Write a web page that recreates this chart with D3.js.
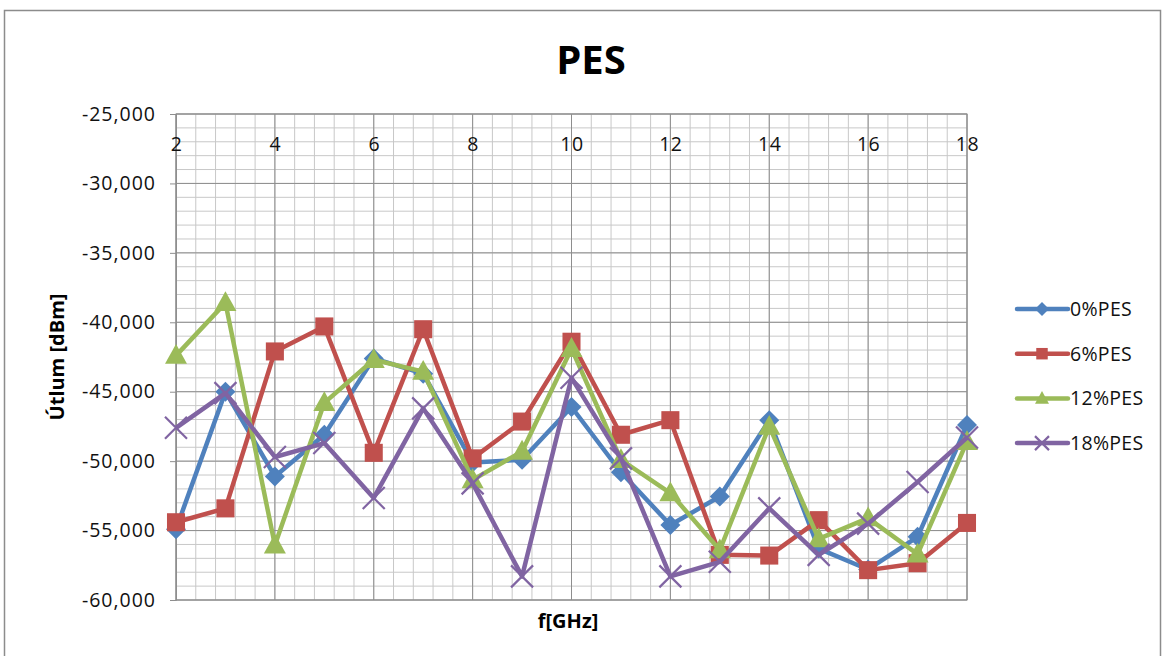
<!DOCTYPE html>
<html><head><meta charset="utf-8">
<script src="https://cdn.jsdelivr.net/npm/d3@7/dist/d3.min.js"></script>
<style>body{margin:0;background:#fff}text{font-family:"Open Sans",Lato,sans-serif}</style>
</head><body>
<svg id="c" width="1164" height="656"></svg>
<script>
const freqs = [2,3,4,5,6,7,8,9,10,11,12,13,14,15,16,17,18];
const pes0  = [-54900,-45000,-51100,-48100,-42600,-43700,-50100,-49900,-46100,-50800,-54600,-52550,-47050,-56300,-57800,-55450,-47400];
const pes6  = [-54400,-53400,-42100,-40300,-49400,-40500,-49800,-47150,-41400,-48100,-47050,-56750,-56800,-54250,-57850,-57350,-54450];
const pes12 = [-42400,-38600,-56050,-45800,-42700,-43550,-51350,-49300,-41900,-49900,-52300,-56400,-47500,-55600,-54100,-56700,-48600];
const pes18 = [-47600,-45100,-49700,-48700,-52650,-46200,-51600,-58300,-44000,-49800,-58300,-57250,-53400,-56750,-54500,-51500,-48300];
const seriesNames = ["0%PES","6%PES","12%PES","18%PES"];
const yTicks = [-25000,-30000,-35000,-40000,-45000,-50000,-55000,-60000];
const xTicks = [2,4,6,8,10,12,14,16,18];

const colors = ["#4F81BD","#C0504D","#9BBB59","#8064A2"];
const shapes = ["diamond","square","triangle","cross"];
const data = [pes0,pes6,pes12,pes18];

const svg = d3.select("#c");
svg.append("rect").attr("x",4.5).attr("y",10.5).attr("width",1156).attr("height",700)
  .attr("fill","#fff").attr("stroke","#8c8c8c").attr("stroke-width",1.5);

const L=176, R=967, T=114, B=600;
const x = d3.scaleLinear().domain([2,18]).range([L,R]);
const y = d3.scaleLinear().domain([-60000,-25000]).range([B,T]);

const g = svg.append("g");
const minorX = d3.range(0,41).map(i=>2+i*0.4);
g.selectAll(".mx").data(minorX).enter().append("line")
  .attr("x1",d=>x(d)).attr("x2",d=>x(d)).attr("y1",T).attr("y2",B)
  .attr("stroke","#c8c8c8").attr("stroke-width",1);
const minorY = d3.range(0,36).map(i=>-60000+i*1000);
g.selectAll(".my").data(minorY).enter().append("line")
  .attr("x1",L).attr("x2",R).attr("y1",d=>y(d)).attr("y2",d=>y(d))
  .attr("stroke","#c8c8c8").attr("stroke-width",1);
g.selectAll(".Mx").data(xTicks).enter().append("line")
  .attr("x1",d=>x(d)).attr("x2",d=>x(d)).attr("y1",T).attr("y2",B)
  .attr("stroke","#8e8e8e").attr("stroke-width",1);
g.selectAll(".My").data(yTicks).enter().append("line")
  .attr("x1",L).attr("x2",R).attr("y1",d=>y(d)).attr("y2",d=>y(d))
  .attr("stroke","#8e8e8e").attr("stroke-width",1);
g.append("rect").attr("x",L).attr("y",T).attr("width",R-L).attr("height",B-T)
  .attr("fill","none").attr("stroke","#8e8e8e").attr("stroke-width",1);

const fmt = v => (v<0?"-":"") + d3.format(",")(Math.abs(v));
const yAxis = d3.axisLeft(y).tickValues(yTicks).tickFormat(fmt).tickSize(6).tickPadding(14);
const ya = svg.append("g").attr("transform",`translate(${L},0)`).call(yAxis);
ya.select(".domain").attr("stroke","#8e8e8e");
ya.selectAll(".tick line").attr("stroke","#8e8e8e");
ya.selectAll("text").attr("font-size",19.5).attr("fill","#111").attr("letter-spacing","1px")
  .style("font-family","'Open Sans',sans-serif");

const xAxis = d3.axisBottom(x).tickValues(xTicks).tickSize(0).tickPadding(23);
const xa = svg.append("g").attr("transform",`translate(0,${T})`).call(xAxis);
xa.select(".domain").remove();
xa.selectAll("text").attr("font-size",19.5).attr("fill","#111").attr("letter-spacing","0.5px")
  .style("font-family","'Open Sans',sans-serif");

svg.append("text").attr("x",591).attr("y",74).attr("text-anchor","middle")
  .attr("font-size",40).attr("font-weight","bold").text("PES");
svg.append("text").attr("transform","translate(64,357) rotate(-90)").attr("text-anchor","middle")
  .attr("font-size",20).attr("font-weight","bold").text("Útlum [dBm]");
svg.append("text").attr("x",568).attr("y",628).attr("text-anchor","middle")
  .attr("font-size",20).attr("font-weight","bold").text("f[GHz]");

function marker(sel, shape, color, s){
  if(shape==="diamond"){
    sel.append("path").attr("d",`M0,${-s}L${s},0L0,${s}L${-s},0Z`).attr("fill",color);
  } else if(shape==="square"){
    sel.append("rect").attr("x",-s*0.82).attr("y",-s*0.82).attr("width",s*1.64).attr("height",s*1.64).attr("fill",color);
  } else if(shape==="triangle"){
    sel.append("path").attr("d",`M0,${-s*1.05}L${s},${s*0.75}L${-s},${s*0.75}Z`).attr("fill",color);
  } else {
    sel.append("path").attr("d",`M${-s},${-s}L${s},${s}M${-s},${s}L${s},${-s}`).attr("stroke",color).attr("stroke-width",2.2).attr("fill","none");
  }
}

const line = d3.line().x((d,i)=>x(freqs[i])).y(d=>y(d));
data.forEach((vals,k)=>{
  const sg = svg.append("g");
  sg.append("path").datum(vals).attr("d",line).attr("fill","none")
    .attr("stroke",colors[k]).attr("stroke-width",4.5).attr("stroke-linejoin","round");
  vals.forEach((v,i)=>{
    const m = sg.append("g").attr("transform",`translate(${x(freqs[i])},${y(v)})`);
    marker(m, shapes[k], colors[k], k===0?10:11);
  });
});

const lg = svg.append("g");
seriesNames.forEach((n,k)=>{
  const yy = 309 + k*44.7;
  const it = lg.append("g").attr("transform",`translate(0,${yy})`);
  it.append("line").attr("x1",1017).attr("x2",1068).attr("y1",0).attr("y2",0)
    .attr("stroke",colors[k]).attr("stroke-width",4.5).attr("stroke-linecap","round");
  const m = it.append("g").attr("transform","translate(1042,0)");
  marker(m, shapes[k], colors[k], 7);
  it.append("text").attr("x",1070).attr("y",7).attr("font-size",19.5).attr("fill","#111")
    .attr("letter-spacing","0.3px").text(n);
});
</script>
</body></html>
